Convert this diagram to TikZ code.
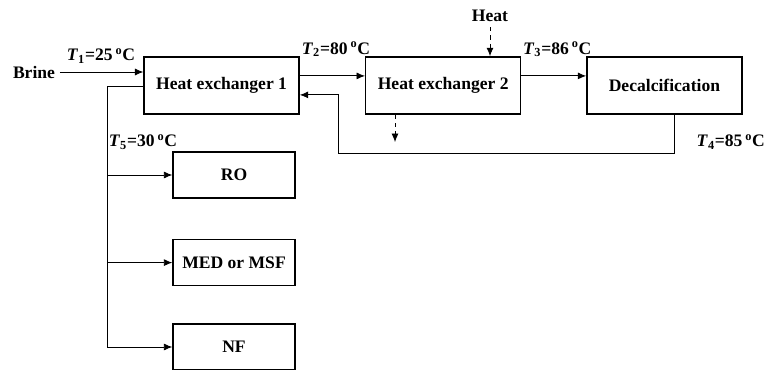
\documentclass[tikz,border=0pt]{standalone}
\usepackage{fontspec}
\usepackage{tikz}
\usetikzlibrary{arrows.meta}
\setmainfont{Liberation Serif}
\newcommand{\TempLabel}[2]{\textit{T}\textsubscript{#1}=#2\,\textsuperscript{o}C}

\begin{document}
\begin{tikzpicture}[font=\fontsize{12.5}{15}\selectfont\bfseries,>={Latex[length=6pt,width=5pt]},
  unitbox/.style={draw,line width=1pt,minimum width=38.75mm,minimum height=14.25mm},
  sinkbox/.style={draw,line width=1pt,minimum width=30.5mm,minimum height=11.5mm},
  flow/.style={->,line width=0.6pt}]
  \useasboundingbox (0,0) rectangle (19.15,9.225);

  \node[unitbox] (hx1) at (5.54,7.09) {Heat exchanger 1};
  \node[unitbox] (hx2) at (11.08,7.09) {Heat exchanger 2};
  \node[unitbox] (decal) at (16.61,7.09) {Decalcification};

  \node[sinkbox] (ro) at (5.85,4.85) {RO};
  \node[sinkbox] (med) at (5.85,2.66) {MED or MSF};
  \node[sinkbox] (nf) at (5.85,0.55) {NF};

  \node (brine) at (0.85,7.425) {Brine};
  \node (heat) at (12.25,8.82) {Heat};
  \coordinate (drain) at (9.875,5.675);
  \coordinate (bus) at (2.675,7.075);

  \node at (2.525,7.82) {\TempLabel{1}{25}};
  \node at (8.4,7.99) {\TempLabel{2}{80}};
  \node at (13.93,7.99) {\TempLabel{3}{86}};
  \node at (18.27,5.675) {\TempLabel{4}{85}};
  \node at (3.575,5.675) {\TempLabel{5}{30}};

  \draw[flow] (brine.east) -- (brine.east -| hx1.west);
  \draw[flow] ([yshift=6.75pt]hx1.east) -- ([yshift=6.75pt]hx2.west);
  \draw[flow] ([yshift=6.75pt]hx2.east) -- ([yshift=6.75pt]decal.west);
  \draw[flow] ([xshift=7.4pt]decal.south) |- (8.45,5.4) |- ([yshift=-6.75pt]hx1.east);
  \draw[flow,dashed] (heat.south) -- (heat.south |- hx2.north);
  \draw[flow,dashed] (drain |- hx2.south) -- (drain);

  \draw[line width=0.6pt] (hx1.west |- bus) -- (bus) -- (bus |- nf);
  \draw[flow] (bus |- ro) -- (ro.west);
  \draw[flow] (bus |- med) -- (med.west);
  \draw[flow] (bus |- nf) -- (nf.west);
\end{tikzpicture}
\end{document}
